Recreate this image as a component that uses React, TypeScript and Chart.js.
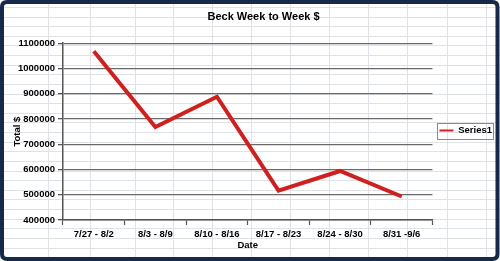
import { useEffect, useRef } from 'react';
import { Chart, registerables } from 'chart.js';

Chart.register(...registerables);

const categories = ['7/27 - 8/2', '8/3 - 8/9', '8/10 - 8/16', '8/17 - 8/23', '8/24 - 8/30', '8/31 -9/6'];
const series1 = [1068000, 768000, 888000, 516000, 594000, 493000];
const yTicks = [400000, 500000, 600000, 700000, 800000, 900000, 1000000, 1100000];
const seriesName = 'Series1';
const titleText = 'Beck Week to Week $';
const xTitle = 'Date';
const yTitle = 'Total $';

// spreadsheet background grid (decoration behind the chart)
const sheetCols = [48, 90, 135, 173, 212, 251, 290, 329, 368, 407, 447, 486];
const sheetRowStart = 7;
const sheetRowStep = 9.62;

const FONT = '"Liberation Sans", Arial, sans-serif';
const RED = '#d01f1f';

const backgroundPlugin = {
  id: 'sheetBackground',
  beforeDraw(chart: any) {
    const { ctx, width, height } = chart;
    ctx.save();
    ctx.fillStyle = '#ffffff';
    ctx.fillRect(0, 0, width, height);
    ctx.strokeStyle = '#dfe2e6';
    ctx.lineWidth = 1;
    ctx.beginPath();
    for (const x of sheetCols) {
      ctx.moveTo(x + 0.5, 0);
      ctx.lineTo(x + 0.5, height);
    }
    for (let y = sheetRowStart; y < height; y += sheetRowStep) {
      const yy = Math.round(y) + 0.5;
      ctx.moveTo(0, yy);
      ctx.lineTo(width, yy);
    }
    ctx.stroke();
    ctx.restore();
  },
};

const framePlugin = {
  id: 'frameAndLegendBox',
  afterLayout(chart: any) {
    const t = chart.titleBlock;
    if (t) {
      t.left = 27;
      t.right = 500;
    }
  },
  afterDraw(chart: any) {
    const { ctx, width, height } = chart;
    ctx.save();
    const lg = chart.legend;
    if (lg && lg.legendHitBoxes && lg.legendHitBoxes.length) {
      const hb = lg.legendHitBoxes[0];
      ctx.strokeStyle = '#8a8a8a';
      ctx.lineWidth = 1;
      const l = Math.round(hb.left - 2) + 0.5;
      const t = Math.round(hb.top - 3) + 0.5;
      ctx.strokeRect(l, t, Math.min(Math.round(hb.width + 3), 495 - l), Math.round(hb.height + 6));
    }
    // outer rounded frame
    ctx.strokeStyle = '#15294a';
    ctx.lineWidth = 4;
    const x = 2, y = 2, w = width - 4.5, h = height - 4, r = 5;
    ctx.beginPath();
    ctx.moveTo(x + r, y);
    ctx.lineTo(x + w - r, y);
    ctx.quadraticCurveTo(x + w, y, x + w, y + r);
    ctx.lineTo(x + w, y + h - r);
    ctx.quadraticCurveTo(x + w, y + h, x + w - r, y + h);
    ctx.lineTo(x + r, y + h);
    ctx.quadraticCurveTo(x, y + h, x, y + h - r);
    ctx.lineTo(x, y + r);
    ctx.quadraticCurveTo(x, y, x + r, y);
    ctx.closePath();
    ctx.stroke();
    ctx.restore();
  },
};

export default function App() {
  const ref = useRef<HTMLCanvasElement | null>(null);

  useEffect(() => {
    const canvas = ref.current;
    if (!canvas) return;
    const chart = new Chart(canvas, {
      type: 'line',
      data: {
        labels: categories,
        datasets: [
          {
            label: seriesName,
            data: series1,
            borderColor: RED,
            backgroundColor: RED,
            borderWidth: 4,
            pointRadius: 0,
            pointHoverRadius: 0,
            tension: 0,
            fill: false,
          },
        ],
      },
      options: {
        animation: false,
        responsive: false,
        devicePixelRatio: 1,
        layout: { padding: { left: 0, right: -2, top: 0, bottom: 0 } },
        plugins: {
          title: {
            display: true,
            text: titleText,
            color: '#000',
            font: { family: FONT, size: 11, weight: 'bold' },
            padding: { top: 10, bottom: 20 },
          },
          legend: {
            display: true,
            position: 'right',
            labels: {
              boxWidth: 14,
              boxHeight: 2,
              padding: 7,
              color: '#000',
              font: { family: FONT, size: 9.5, weight: 'bold' },
              generateLabels: (c: any) =>
                (Chart.defaults.plugins.legend.labels as any).generateLabels(c).map((l: any) => ({
                  ...l,
                  lineWidth: 0,
                  fillStyle: RED,
                  strokeStyle: RED,
                })),
            },
          },
          tooltip: { enabled: false },
        },
        scales: {
          x: {
            type: 'category',
            offset: true,
            grid: {
              display: true,
              drawOnChartArea: false,
              drawTicks: true,
              offset: true,
              tickLength: 5,
              tickColor: '#555',
              tickWidth: 1.2,
            },
            border: { display: true, color: '#555', width: 1.5 },
            ticks: {
              color: '#000',
              font: { family: FONT, size: 9.5, weight: 'bold' },
              padding: 4,
              maxRotation: 0,
              autoSkip: false,
            },
            title: {
              display: true,
              text: xTitle,
              color: '#000',
              font: { family: FONT, size: 9.5, weight: 'bold' },
              padding: { top: 0, bottom: 10 },
            },
            afterFit: (s: any) => {
              s.height = 41;
            },
          },
          y: {
            min: yTicks[0],
            max: yTicks[yTicks.length - 1],
            afterBuildTicks: (s: any) => {
              s.ticks = yTicks.map((v) => ({ value: v }));
            },
            grid: {
              color: '#6a6a6a',
              lineWidth: 1.3,
              tickLength: 5,
              tickColor: '#555',
            },
            border: { display: true, color: '#555', width: 1.5 },
            ticks: {
              color: '#000',
              font: { family: FONT, size: 9.5, weight: 'bold' },
              padding: 3,
              callback: (v: any) => String(v),
            },
            title: {
              display: true,
              text: yTitle,
              color: '#000',
              font: { family: FONT, size: 9.5, weight: 'bold' },
              padding: { top: 12, bottom: 0 },
            },
            afterFit: (s: any) => {
              s.width = 63;
            },
          },
        },
      },
      plugins: [backgroundPlugin, framePlugin],
    } as any);
    return () => chart.destroy();
  }, []);

  return (
    <div style={{ position: 'fixed', left: 0, top: 0, width: 500, height: 261 }}>
      <canvas ref={ref} width={500} height={261} style={{ display: 'block' }} />
    </div>
  );
}
